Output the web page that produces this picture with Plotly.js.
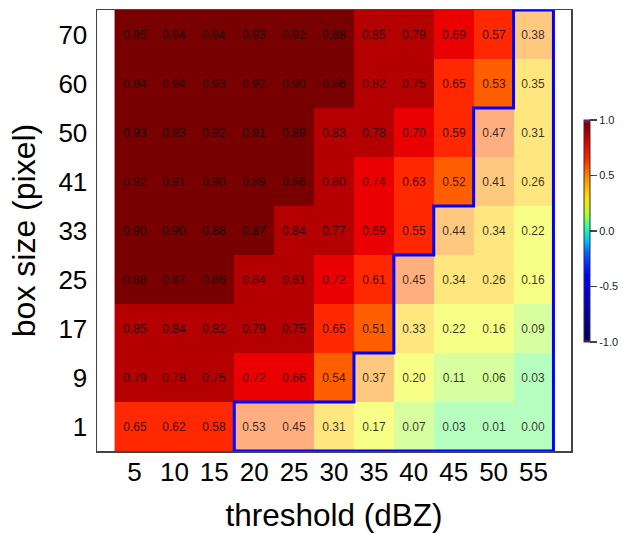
<!DOCTYPE html>
<html>
<head>
<meta charset="utf-8">
<script src="https://cdn.plot.ly/plotly-3.0.1.min.js"></script>
<style>
  html, body { margin: 0; padding: 0; background: #fff; }
  #chart { width: 629px; height: 533px; }
</style>
</head>
<body>
<div id="chart"></div>
<script>
// Fractions skill score by reflectivity threshold and neighbourhood box size
const thresholds = [5, 10, 15, 20, 25, 30, 35, 40, 45, 50, 55];
const boxSizes = [1, 9, 17, 25, 33, 41, 50, 60, 70];

// one row per box size, bottom (1 px) to top (70 px)
const fss = [
  [0.65, 0.62, 0.58, 0.53, 0.45, 0.31, 0.17, 0.07, 0.03, 0.01, 0.00],
  [0.79, 0.78, 0.75, 0.72, 0.66, 0.54, 0.37, 0.20, 0.11, 0.06, 0.03],
  [0.85, 0.84, 0.82, 0.79, 0.75, 0.65, 0.51, 0.33, 0.22, 0.16, 0.09],
  [0.88, 0.87, 0.86, 0.84, 0.81, 0.72, 0.61, 0.45, 0.34, 0.26, 0.16],
  [0.90, 0.90, 0.88, 0.87, 0.84, 0.77, 0.69, 0.55, 0.44, 0.34, 0.22],
  [0.92, 0.91, 0.90, 0.89, 0.86, 0.80, 0.74, 0.63, 0.52, 0.41, 0.26],
  [0.93, 0.93, 0.92, 0.91, 0.89, 0.83, 0.78, 0.70, 0.59, 0.47, 0.31],
  [0.94, 0.94, 0.93, 0.92, 0.90, 0.86, 0.82, 0.75, 0.65, 0.53, 0.35],
  [0.95, 0.94, 0.94, 0.93, 0.92, 0.88, 0.85, 0.79, 0.69, 0.57, 0.38]
];

// per box size: index of the first threshold that is not yet useful
const notUsefulFrom = [3, 6, 7, 7, 8, 9, 9, 10, 10];

// stepped colour classes
const classBreaks = [-0.05, 0.05, 0.15, 0.25, 0.355, 0.45, 0.55, 0.655, 0.75, 0.855, 1.0];
const classColors = ['#70ff80', '#b0ff40', '#f0ff10', '#ffcd00', '#ff9100',
                     '#ff5f00', '#ff2800', '#ea0000', '#b40000', '#780000'];

const zmin = classBreaks[0], zmax = classBreaks[classBreaks.length - 1];
const stepScale = [];
classColors.forEach((c, i) => {
  stepScale.push([(classBreaks[i] - zmin) / (zmax - zmin), c]);
  stepScale.push([(classBreaks[i + 1] - zmin) / (zmax - zmin), c]);
});

const rowIdx = boxSizes.map((_, i) => i);
const useful = fss.map((row, r) => row.map((v, c) => c < notUsefulFrom[r] ? v : null));
const faded = fss.map((row, r) => row.map((v, c) => c >= notUsefulFrom[r] ? v : null));

const cellText = {
  texttemplate: '%{z:.2f}',
  textfont: { family: 'Liberation Sans, Arial, sans-serif', size: 12, color: 'rgba(0,0,0,0.78)' }
};

const heatUseful = Object.assign({
  type: 'heatmap', x: thresholds, y: rowIdx, z: useful,
  zmin: zmin, zmax: zmax, colorscale: stepScale, showscale: false,
  xgap: 0, ygap: 0, hoverinfo: 'skip'
}, cellText);

const heatFaded = Object.assign({
  type: 'heatmap', x: thresholds, y: rowIdx, z: faded,
  zmin: zmin, zmax: zmax, colorscale: stepScale, showscale: false,
  opacity: 0.5, hoverinfo: 'skip'
}, cellText);

// outline of the not-useful region (staircase built from the cell edges)
const step = thresholds[1] - thresholds[0];
const xLeft = c => thresholds[c] - step / 2;
const xRight = thresholds[thresholds.length - 1] + step / 2;
const ox = [], oy = [];
notUsefulFrom.forEach((c, r) => {
  ox.push(xLeft(c), xLeft(c));
  oy.push(r - 0.5, r + 0.5);
});
ox.push(xRight, xRight, xLeft(notUsefulFrom[0]));
oy.push(boxSizes.length - 0.5, -0.5, -0.5);

const outline = {
  type: 'scatter', mode: 'lines', x: ox, y: oy,
  line: { color: '#0000ff', width: 3 }, hoverinfo: 'skip', showlegend: false
};

// colour key spanning the full score range
const keyScale = [
  [0.0, '#7a10a0'], [0.015, '#00005a'], [0.1, '#00008f'], [0.3, '#0000ff'],
  [0.4, '#0060ff'], [0.46, '#00c8ff'], [0.52, '#30ffa0'], [0.58, '#b0ff30'],
  [0.65, '#ffe000'], [0.74, '#ff8c00'], [0.83, '#ff2000'], [0.92, '#c80000'],
  [0.985, '#700000'], [1.0, '#e000e0']
];
const key = {
  type: 'scatter', mode: 'markers', x: [null], y: [null], showlegend: false,
  hoverinfo: 'skip',
  marker: {
    color: [0], cmin: -1, cmax: 1, colorscale: keyScale, showscale: true,
    colorbar: {
      x: 1.027, xanchor: 'left', xpad: 0,
      y: 0.499, yanchor: 'middle', ypad: 0,
      thickness: 6, lenmode: 'pixels', len: 222,
      outlinewidth: 1, outlinecolor: '#333',
      tickvals: [-1, -0.5, 0, 0.5, 1],
      ticktext: ['-1.0', '-0.5', '0.0', '0.5', '1.0'],
      ticks: 'outside', ticklen: 7, tickwidth: 1.5, tickcolor: '#444',
      tickfont: { family: 'Liberation Sans, Arial, sans-serif', size: 11, color: '#222' }
    }
  }
};

const font = 'Liberation Sans, Arial, sans-serif';
const layout = {
  width: 629, height: 533,
  margin: { l: 97, r: 58, t: 10, b: 82 },
  paper_bgcolor: '#fff', plot_bgcolor: '#fff',
  showlegend: false,
  font: { family: font, color: '#000' },
  xaxis: {
    range: [0.3, 59.7], tickvals: thresholds, ticktext: thresholds.map(String),
    showgrid: false, zeroline: false,
    ticks: 'outside', ticklen: 1, tickcolor: 'rgba(0,0,0,0)',
    ticklabelstandoff: -4,
    tickfont: { size: 26 },
    showline: true, mirror: true, linecolor: '#444', linewidth: 1.5,
    title: { text: 'threshold (dBZ)', font: { size: 31.5 }, standoff: 23 }
  },
  yaxis: {
    range: [-0.5, boxSizes.length - 0.5], tickvals: rowIdx, ticktext: boxSizes.map(String),
    showgrid: false, zeroline: false,
    ticks: 'outside', ticklen: 3, tickcolor: 'rgba(0,0,0,0)',
    tickfont: { size: 26 },
    showline: true, mirror: true, linecolor: '#444', linewidth: 1.5,
    title: { text: 'box size (pixel)', font: { size: 32 }, standoff: 13 }
  }
};

Plotly.newPlot('chart', [heatUseful, heatFaded, outline, key], layout,
  { staticPlot: true, displayModeBar: false });
</script>
</body>
</html>
